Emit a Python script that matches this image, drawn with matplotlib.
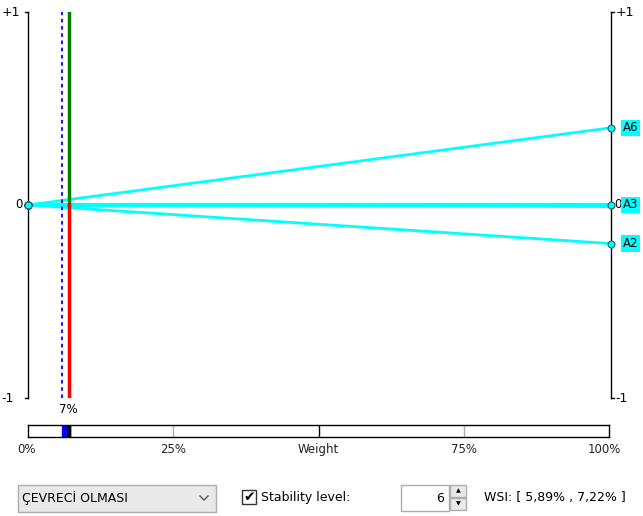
import numpy as np
import matplotlib.pyplot as plt
from matplotlib.patches import Rectangle

# alternatives: value at weight 0 and weight 1
names = ['A1', 'A4', 'A5', 'A3', 'A6', 'A2']
v_start = [0.0, 0.0, 0.0, 0.0, 0.0, 0.0]
v_end = [-0.008, -0.004, 0.002, 0.0, 0.40, -0.20]
labelled = ['A6', 'A3', 'A2']

weight = 0.07
wsi = [0.0589, 0.0722]
bar_ticks = [0, 0.25, 0.5, 0.75, 1.0]
bar_labels = ['0%', '25%', 'Weight', '75%', '100%']
criterion = 'ÇEVRECİ OLMASI'
stability = 6

W, H = 643, 516
plt.rcParams['font.family'] = ['DejaVu Sans']
fig = plt.figure(figsize=(W / 100, H / 100), dpi=100)
fig.patch.set_facecolor('white')

def px_axes(x0, y0, x1, y1):
    return fig.add_axes([x0 / W, 1 - y1 / H, (x1 - x0) / W, (y1 - y0) / H])

cyan = '#00ffff'
fs = 8.5
fs_ui = 9

# main sensitivity plot
ax = px_axes(28, 12, 611, 398)
ax.set_xlim(0, 1)
ax.set_ylim(-1, 1)
ax.axis('off')
for n, a, b in zip(names, v_start, v_end):
    ax.plot([0, 1], [a, b], color=cyan, lw=3.0 if n == 'A3' else 2.0,
            solid_capstyle='butt', zorder=3)
# weight markers
for w in wsi:
    ax.plot([w, w], [-1, 1], color='#0000ff', lw=1.3, ls=(0, (2, 2)), zorder=4)
ax.plot([weight, weight], [0, 1], color='#008000', lw=2.5, zorder=5)
ax.plot([weight, weight], [-1, 0], color='#ff0000', lw=2.5, zorder=5)
# axes lines
for xv, d in [(0, -1), (1, 1)]:
    ax.plot([xv, xv], [-1, 1], color='black', lw=1, clip_on=False, zorder=6)
    for yv in [-1, 1]:
        ax.plot([xv, xv + 0.006 * d], [yv, yv], color='black', lw=1,
                clip_on=False, zorder=6)
# end markers
ax.plot([0] * len(v_start), v_start, 'o', ms=5, mfc=cyan, mec='#206060',
        mew=0.8, clip_on=False, zorder=7)
ax.plot([1] * len(labelled), [v_end[names.index(n)] for n in labelled], 'o',
        ms=5, mfc=cyan, mec='#206060', mew=0.8, clip_on=False, zorder=7)
ax.text(-0.046, 1, '+1', ha='left', va='center', fontsize=fs + 0.5, clip_on=False)
ax.text(-0.046, -1, '-1', ha='left', va='center', fontsize=fs + 0.5, clip_on=False)
ax.text(1.008, 1, '+1', ha='left', va='center', fontsize=fs + 0.5, clip_on=False)
ax.text(1.008, -1, '-1', ha='left', va='center', fontsize=fs + 0.5, clip_on=False)
ax.text(-0.01, 0, '0', ha='right', va='center', fontsize=fs, clip_on=False)
ax.text(1.006, 0, '0', ha='left', va='center', fontsize=fs, clip_on=False)
for n in labelled:
    ax.text(1.02, v_end[names.index(n)], n, ha='left', va='center', fontsize=fs,
            clip_on=False,
            bbox=dict(boxstyle='square,pad=0.15', fc=cyan, ec='none'))
ax.text(weight, -1.025, f'{weight * 100:.0f}%', ha='center', va='top',
        fontsize=fs, clip_on=False)

# weight bar
bx = px_axes(28, 425, 609, 437)
bx.set_xlim(0, 1)
bx.set_ylim(0, 1)
bx.set_xticks([])
bx.set_yticks([])
for s in bx.spines.values():
    s.set_linewidth(1)
bx.axvspan(wsi[0], wsi[1], color='#0000ff')
bx.axvline(weight, color='black', lw=2.5)
for t in bar_ticks[1:-1]:
    bx.axvline(t, color='black' if t == 0.5 else '#b0b0b0', lw=1)
for t, lab in zip(bar_ticks, bar_labels):
    ha = 'left' if t == 0 else ('right' if t == 1 else 'center')
    bx.text(t + (-0.018 if t == 0 else (0.02 if t == 1 else 0)), -0.5, lab,
            ha=ha, va='top', fontsize=fs, color='#222222')

# bottom controls
ui = fig.add_axes([0, 0, 1, 1])
ui.set_xlim(0, W)
ui.set_ylim(H, 0)
ui.axis('off')
ui.patch.set_alpha(0)
ui.add_patch(Rectangle((18, 485), 198, 27, fc='#e9e9e9', ec='#adadad', lw=1))
ui.text(22, 498.5, criterion, va='center', fontsize=fs_ui)
ui.plot([200, 204, 208], [496, 500, 496], color='#555555', lw=1)
ui.add_patch(Rectangle((242, 490), 14, 14, fc='white', ec='#333333', lw=1))
ui.text(249, 497, '✔', ha='center', va='center', fontsize=10)
ui.text(261, 497.5, 'Stability level:', va='center', fontsize=fs_ui)
ui.add_patch(Rectangle((401, 485), 48, 26, fc='white', ec='#adadad', lw=1))
ui.text(444, 498, str(stability), ha='right', va='center', fontsize=fs_ui)
ui.add_patch(Rectangle((450, 485), 16, 12, fc='#e9e9e9', ec='#adadad', lw=1))
ui.add_patch(Rectangle((450, 498), 16, 12, fc='#e9e9e9', ec='#adadad', lw=1))
ui.text(458, 491, '▲', ha='center', va='center', fontsize=4.5)
ui.text(458, 504, '▼', ha='center', va='center', fontsize=4.5)
ui.text(484, 497.5, 'WSI: [ %s%% , %s%% ]' % (f'{wsi[0] * 100:.2f}'.replace('.', ','),
                                            f'{wsi[1] * 100:.2f}'.replace('.', ',')),
        va='center', fontsize=fs_ui)

fig.savefig('out.png', dpi=100)
